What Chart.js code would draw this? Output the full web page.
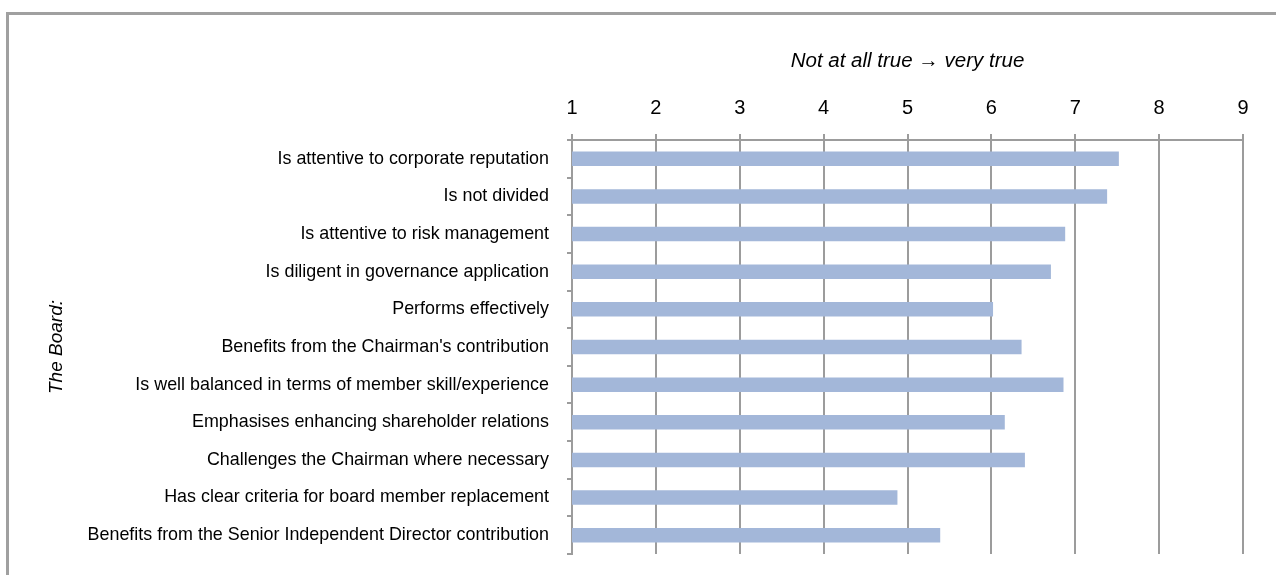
<!DOCTYPE html>
<html>
<head>
<meta charset="utf-8">
<script src="https://cdn.jsdelivr.net/npm/chart.js@4"></script>
<style>
  html, body { margin:0; padding:0; background:#fff; width:1276px; height:575px; overflow:hidden; }
  #frame { position:absolute; left:6px; top:12px; width:1400px; height:700px; border-left:3px solid #a0a0a0; border-top:3px solid #a0a0a0; }
  #wrap { position:absolute; left:0; top:0; width:1276px; height:575px; }
</style>
</head>
<body>
<div id="frame"></div>
<div id="wrap"><canvas id="c" width="1276" height="575"></canvas></div>
<script>
const categories = [
  "Is attentive to corporate reputation",
  "Is not divided",
  "Is attentive to risk management",
  "Is diligent in governance application",
  "Performs effectively",
  "Benefits from the Chairman's contribution",
  "Is well balanced in terms of member skill/experience",
  "Emphasises enhancing shareholder relations",
  "Challenges the Chairman where necessary",
  "Has clear criteria for board member replacement",
  "Benefits from the Senior Independent Director contribution"
];
const scores = [7.52, 7.38, 6.88, 6.71, 6.02, 6.36, 6.86, 6.16, 6.40, 4.88, 5.39];
const scaleMin = 1;
const scaleMax = 9;
const axisTitle = "Not at all true \u2192 very true";
const categoryTitle = "The Board:";

const gridColor = '#9c9c9c';
const fontFamily = '"Liberation Sans", Arial, sans-serif';

new Chart(document.getElementById('c'), {
  type: 'bar',
  data: {
    labels: categories,
    datasets: [{
      data: scores,
      backgroundColor: '#A3B7D9',
      borderWidth: 0,
      barPercentage: 0.385,
      categoryPercentage: 1.0
    }]
  },
  options: {
    indexAxis: 'y',
    responsive: false,
    animation: false,
    devicePixelRatio: 1,
    layout: { padding: { left: 0, top: 0, right: 33, bottom: 21 } },
    plugins: { legend: { display: false }, tooltip: { enabled: false } },
    scales: {
      x: {
        position: 'top',
        min: scaleMin,
        max: scaleMax,
        ticks: { stepSize: 1, color: '#000', padding: 14, font: { family: fontFamily, size: 20 } },
        grid: { color: gridColor, lineWidth: 2, tickLength: 6, drawTicks: true },
        border: { color: gridColor, width: 2 },
        title: { display: true, text: axisTitle, color: '#000', padding: { top: 49, bottom: 0 },
                 font: { family: fontFamily, size: 20.5, style: 'italic' } },
        afterFit: (s) => { s.height = 140; }
      },
      y: {
        position: 'left',
        ticks: { color: '#000', padding: 18, font: { family: fontFamily, size: 17.9 } },
        grid: { color: gridColor, lineWidth: 2, tickLength: 5, drawOnChartArea: false, drawTicks: true, offset: true },
        border: { color: gridColor, width: 2 },
        title: { display: true, text: categoryTitle, color: '#000', padding: { top: 45.6, bottom: 0 },
                 font: { family: fontFamily, size: 19, style: 'italic' } },
        afterFit: (s) => { s.width = 572; s.paddingTop = 0; s.paddingBottom = 0; }
      }
    }
  }
});
</script>
</body>
</html>
